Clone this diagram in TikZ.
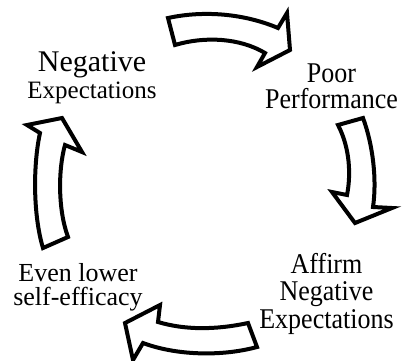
\documentclass[tikz,border=0pt]{standalone}
\usepackage{fontspec}
\setmainfont{Liberation Serif}
% text rows in the picture are a little taller than plain Times
\newcommand{\tallrow}[1]{\scalebox{1}[1.1]{#1}}
\begin{document}
\begin{tikzpicture}[x=1pt,y=-1pt,
    label/.style={align=center,inner sep=0pt,anchor=base,font=\fontsize{26}{27}\selectfont},
    blockarrow/.style={draw=black,fill=white,line width=4pt,line join=miter}]
    \useasboundingbox (0,0) rectangle (403,360);
    % Labels of the cycle
    \node[label] (negexp) at (92,98) {{\fontsize{30}{26}\selectfont Negative}\\{\fontsize{25}{26}\selectfont Expectations}};
    \node[label,font=\fontsize{26}{26}\selectfont] (poorperf) at (331.5,108) {\tallrow{Poor}\\\tallrow{Performance}};
    \node[label,font=\fontsize{26}{27.5}\selectfont] (affirm) at (326.5,328) {\tallrow{Affirm}\\\tallrow{Negative}\\\tallrow{Expectations}};
    \node[label,font=\fontsize{26}{24}\selectfont] (lowereff) at (78,305) {Even lower\\self-efficacy};
    % Top arrow
    \draw[blockarrow] (168,18) .. controls (205,10) and (245,14) .. (278,28) -- (287,13) -- (290,50)
        -- (257,67) -- (265,53) .. controls (240,38) and (205,36) .. (175,45) -- cycle;
    % Right arrow
    \draw[blockarrow] (338,125) -- (363,118) .. controls (373,145) and (377,180) .. (373,207) -- (392,208)
        -- (355,223) -- (332,192) -- (347,195) .. controls (351,175) and (350,148) .. (338,125) -- cycle;
    % Bottom arrow
    \draw[blockarrow] (248,323) .. controls (215,330) and (185,330) .. (158,322) -- (160,305) -- (125,323)
        -- (133,360) -- (143,343) .. controls (175,355) and (220,357) .. (257,347) -- cycle;
    % Left arrow
    \draw[blockarrow] (43,248) .. controls (33,215) and (33,165) .. (40,133) -- (27,125) -- (62,118)
        -- (82,152) -- (65,145) .. controls (58,170) and (58,210) .. (68,237) -- cycle;
\end{tikzpicture}
\end{document}
